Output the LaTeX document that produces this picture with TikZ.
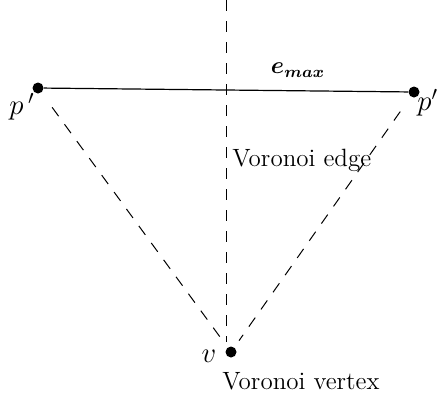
\documentclass[tikz,border=0pt]{standalone}
\usepackage{amsmath, amssymb}
\usetikzlibrary{positioning}
\usetikzlibrary{calc}

\begin{document}
\begin{tikzpicture}[x=0.5pt, y=-0.5pt, every node/.style={font=\fontsize{12.5}{15}\selectfont},
  site/.style={circle, fill=black, inner sep=0pt, minimum size=5.5pt},
  bisect/.style={dashed, dash pattern=on 5.5pt off 5pt, line width=0.5pt}]
        \useasboundingbox (0,0) rectangle (442,397);

        % Draw the two sites and the Voronoi vertex
        \node[site] (pl) at (38,88) {};
        \node[site] (pr) at (414,92) {};
        \node[site] (v) at (231,352) {};

        % Labels of the points
        \node[font=\Large] (lpl) at (22,107) {$p\,'$};
        \node[font=\Large, inner sep=0pt, anchor=west] (lpr) at (417,103) {$p'$};
        \node[font=\Large] (lv) at (209,356) {$v$};

        % The longest edge
        \draw[line width=0.6pt] (pl) -- (pr);
        \node[font=\large] (emax) at (298,70) {$\boldsymbol{e_{max}}$};

        % The Voronoi edge, a dashed vertical line
        \coordinate (top) at (226,0);
        \coordinate (bot) at (226,342);
        \draw[bisect] (top) -- (bot);
        \node[anchor=west, inner sep=0pt] (edge) at (232,160) {Voronoi edge};

        % Dashed lines from the sites to the Voronoi vertex
        \draw[bisect, shorten <=9pt, shorten >=4pt] (pl) -- (v);
        \draw[bisect, shorten <=9pt, shorten >=4pt] (pr) -- (v);
        \node[anchor=west, inner sep=0pt] (vert) at (222,381) {Voronoi vertex};
\end{tikzpicture}
\end{document}
